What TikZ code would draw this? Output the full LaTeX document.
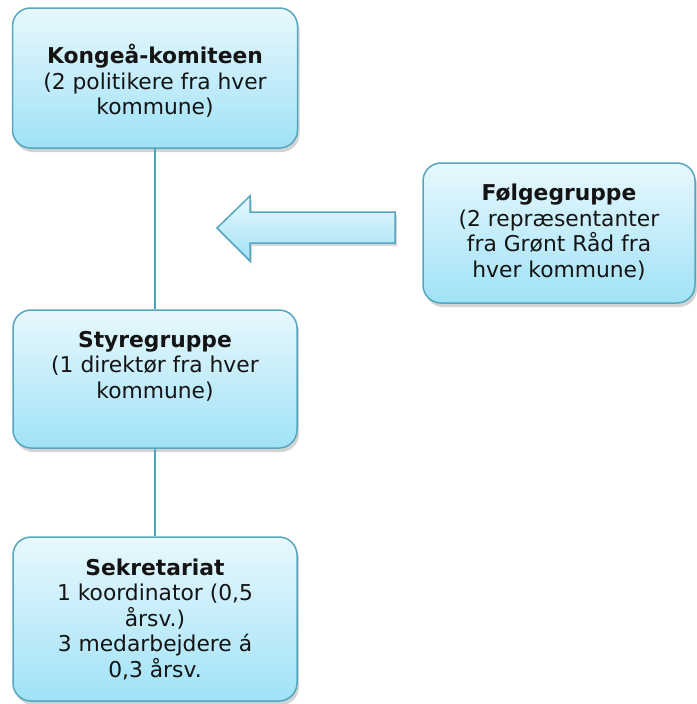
\documentclass[tikz,border=0pt]{standalone}
\usepackage{fontspec}
\setmainfont{DejaVu Sans}
\usetikzlibrary{shadows}
\definecolor{boxborder}{RGB}{86,166,192}
\definecolor{boxtop}{RGB}{232,248,253}
\definecolor{boxbot}{RGB}{160,226,247}
\definecolor{linkcol}{RGB}{74,164,192}
\begin{document}
\begin{tikzpicture}[x=1pt,y=-1pt,
  orgbox/.style={draw=boxborder, line width=1.5pt, rounded corners=18pt,
    top color=boxtop, bottom color=boxbot, inner sep=0pt,
    drop shadow={shadow xshift=2pt, shadow yshift=-4pt, opacity=0.35}},
  txt/.style={align=center, inner sep=0pt, font=\fontsize{21.8pt}{25.5pt}\selectfont, text=black!92},
  link/.style={draw=linkcol, line width=2.8pt}]
\useasboundingbox (0,0) rectangle (696,704);
\node[orgbox, minimum width=285pt, minimum height=140pt] (top) at (155,78) {};
\node[orgbox, minimum width=284pt, minimum height=138pt] (mid) at (155,379) {};
\node[orgbox, minimum width=284pt, minimum height=164pt] (bot) at (155,619) {};
\node[orgbox, minimum width=272pt, minimum height=140pt] (right) at (559,233) {};
\draw[link] (top.south) -- (mid.north);
\draw[link] (mid.south) -- (bot.north);
% hollow block arrow
\draw[draw=boxborder, line width=1.5pt, top color=boxtop, bottom color=boxbot,
  drop shadow={shadow xshift=2pt, shadow yshift=-3pt, opacity=0.3}]
  (217,228) -- (250,196) -- (250,212) -- (395,212) -- (395,243) -- (250,243) -- (250,261) -- cycle;
% texts
\node[txt] (ttop) at (155,81) {\textbf{Kongeå-komiteen}\\(2 politikere fra hver\\kommune)};
\node[txt] (tmid) at (155,366) {\textbf{Styregruppe}\\(1 direktør fra hver\\kommune)};
\node[txt] (tbot) at (155,619) {\textbf{Sekretariat}\\1 koordinator (0,5\\årsv.)\\3 medarbejdere á\\0,3 årsv.};
\node[txt] (tright) at (559,232) {\textbf{Følgegruppe}\\(2 repræsentanter\\fra Grønt Råd fra\\hver kommune)};
\end{tikzpicture}
\end{document}
